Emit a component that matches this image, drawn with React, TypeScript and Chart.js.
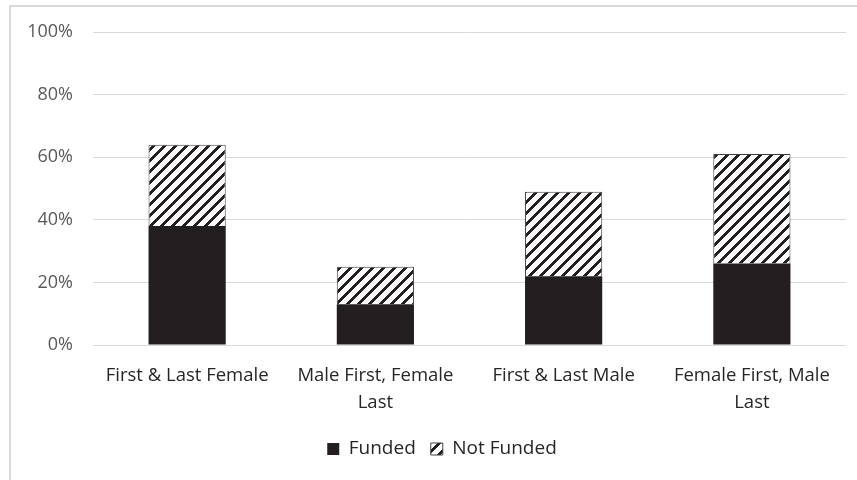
import React, { useEffect, useRef } from "react";
import { Chart, registerables } from "chart.js";

Chart.register(...registerables);

const categories: (string | string[])[] = [
  "First & Last Female",
  ["Male First, Female", "Last"],
  "First & Last Male",
  ["Female First, Male", "Last"],
];
const funded = [38, 13, 22, 26];
const notFunded = [26, 12, 27, 35];
const yTicks = [0, 20, 40, 60, 80, 100];

const FONT = "'Open Sans', Lato, sans-serif";

function makeHatch(): CanvasPattern | string {
  const s = 11;
  const b = 4;
  const c = document.createElement("canvas");
  c.width = s;
  c.height = s;
  const ctx = c.getContext("2d");
  if (!ctx) return "#fff";
  const img = ctx.createImageData(s, s);
  for (let y = 0; y < s; y++) {
    for (let x = 0; x < s; x++) {
      const i = (y * s + x) * 4;
      const dark = (x + y) % s < b;
      img.data[i] = dark ? 0x23 : 0xff;
      img.data[i + 1] = dark ? 0x1f : 0xff;
      img.data[i + 2] = dark ? 0x20 : 0xff;
      img.data[i + 3] = 255;
    }
  }
  ctx.putImageData(img, 0, 0);
  const p = ctx.createPattern(c, "repeat");
  return p || "#fff";
}

const frame = {
  id: "frame",
  afterLayout(chart: any) {
    if (chart.legend) {
      chart.legend.left += 19;
      chart.legend.right += 19;
    }
  },
  beforeDraw(chart: any) {
    const ctx = chart.ctx;
    ctx.save();
    ctx.fillStyle = "#ffffff";
    ctx.fillRect(0, 0, chart.width, chart.height);
    ctx.strokeStyle = "#d9d9d9";
    ctx.lineWidth = 2;
    ctx.beginPath();
    ctx.moveTo(10, chart.height);
    ctx.lineTo(10, 6);
    ctx.lineTo(chart.width, 6);
    ctx.stroke();
    ctx.restore();
  },
};

export default function App() {
  const ref = useRef<HTMLCanvasElement>(null);
  useEffect(() => {
    if (!ref.current) return;
    const hatch = makeHatch();
    const chart = new Chart(ref.current, {
      type: "bar",
      data: {
        labels: categories,
        datasets: [
          {
            label: "Funded",
            data: funded,
            backgroundColor: "#231f20",
            borderColor: "#231f20",
            borderWidth: 0,
            categoryPercentage: 1,
            barPercentage: 0.41,
          },
          {
            label: "Not Funded",
            data: notFunded,
            backgroundColor: hatch as any,
            borderColor: "#404040",
            borderWidth: 1,
            categoryPercentage: 1,
            barPercentage: 0.41,
          },
        ],
      },
      options: {
        animation: false,
        responsive: false,
        maintainAspectRatio: false,
        layout: { padding: { top: 32, right: 11, left: 0, bottom: 11.5 } },
        plugins: {
          tooltip: { enabled: false },
          legend: {
            display: true,
            position: "bottom",
            labels: {
              boxWidth: 12,
              boxHeight: 12,
              padding: 15,
              color: "#262626",
              font: { family: FONT, size: 19 },
            },
          },
        },
        scales: {
          x: {
            stacked: true,
            grid: { display: false, drawTicks: false },
            border: { display: false },
            ticks: {
              color: "#262626",
              padding: 17,
              maxRotation: 0,
              autoSkip: false,
              font: { family: FONT, size: 18.5, lineHeight: 1.45 },
            },
            afterFit: (s: any) => {
              s.height = 79.5;
            },
          },
          y: {
            stacked: true,
            min: 0,
            max: 100,
            grid: { color: "#d9d9d9", lineWidth: 1, drawTicks: false },
            border: { display: false },
            afterBuildTicks: (s: any) => {
              s.ticks = yTicks.map((v) => ({ value: v }));
            },
            ticks: {
              color: "#595959",
              padding: 20,
              font: { family: FONT, size: 18 },
              callback: (v: any) => v + "%",
            },
            afterFit: (s: any) => {
              s.width = 93;
            },
          },
        },
      },
      plugins: [frame],
    });
    return () => chart.destroy();
  }, []);
  return (
    <div style={{ position: "fixed", left: 0, top: 0, width: 857, height: 480 }}>
      <canvas ref={ref} width={857} height={480} style={{ width: 857, height: 480 }} />
    </div>
  );
}
